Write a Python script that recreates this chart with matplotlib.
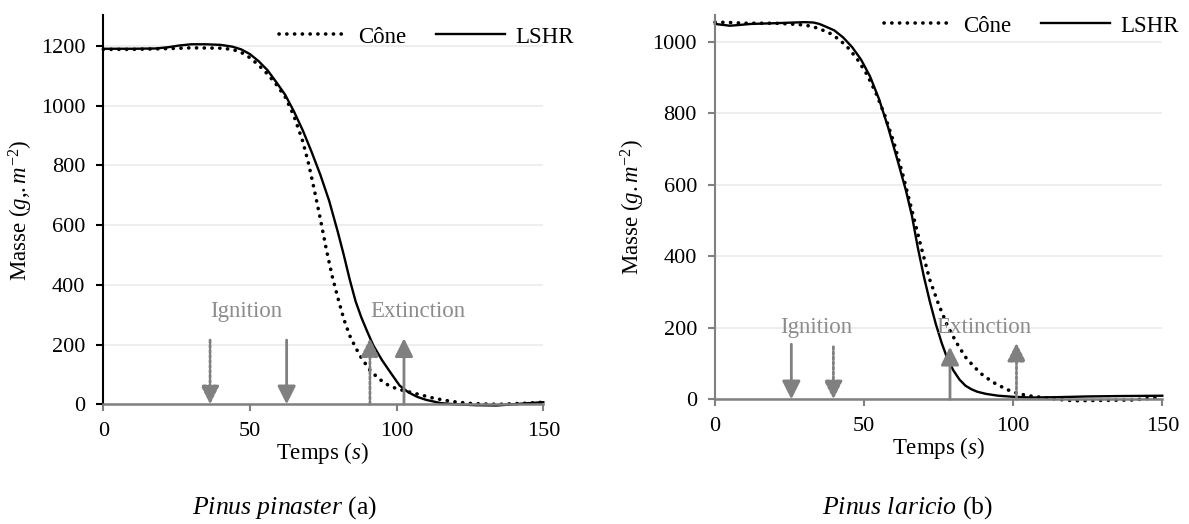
import matplotlib
matplotlib.use("Agg")
import matplotlib.pyplot as plt

plt.rcParams["font.family"] = ["Liberation Serif", "DejaVu Serif"]
plt.rcParams["mathtext.fontset"] = "custom"
plt.rcParams["mathtext.rm"] = "Liberation Serif"
plt.rcParams["mathtext.it"] = "Liberation Serif:italic"

# --- data ---
cone_a_t = [0, 10, 20, 30, 40, 44, 47, 50, 53, 56, 59, 62, 65, 68, 70, 72, 74, 76, 78, 80, 82, 84,
            86, 88, 91, 94, 97, 100, 104, 108, 112, 116, 120, 125, 130, 135, 140, 145, 150]
cone_a_m = [1188, 1188, 1190, 1193, 1192, 1188, 1178, 1160, 1135, 1105, 1070, 1029, 965, 880, 805,
            715, 620, 520, 430, 355, 285, 230, 190, 155, 113, 85, 65, 52, 42, 32, 22, 14, 8, 3, 1,
            0, 2, 4, 7]
lshr_a_t = [0, 10, 18, 22, 26, 30, 35, 40, 44, 47, 50, 53, 56, 59, 62, 65, 68, 71, 74, 77, 80, 82,
            84, 86, 88, 90, 92, 95, 98, 101, 104, 107, 110, 115, 120, 127, 134, 140, 145, 150]
lshr_a_m = [1190, 1190, 1191, 1195, 1201, 1205, 1205, 1203, 1197, 1188, 1172, 1148, 1118, 1078,
            1036, 980, 917, 845, 768, 681, 575, 499, 418, 345, 290, 243, 198, 148, 105, 63, 40,
            25, 15, 4, 0, -3, -4, 0, 4, 7]

cone_b_t = [0, 5, 10, 20, 25, 30, 33, 36, 39, 42, 45, 48, 51, 54, 57, 60, 63, 66, 69, 72, 75, 78,
            81, 84, 87, 90, 94, 98, 102, 106, 110, 115, 120, 130, 140, 145, 150]
cone_b_m = [1055, 1054, 1052, 1052, 1050, 1047, 1042, 1033, 1022, 1004, 980, 948, 908, 856, 793,
            718, 628, 530, 430, 335, 265, 205, 158, 118, 90, 66, 44, 27, 15, 9, 5, 0, -4, -3, -2,
            2, 5]
lshr_b_t = [0, 3, 5, 8, 12, 20, 30, 33, 35, 37, 40, 43, 46, 49, 52, 55, 58, 61, 64, 66, 68, 70, 72,
            74, 76, 78, 80, 82, 84, 86, 88, 91, 95, 100, 106, 115, 125, 135, 150]
lshr_b_m = [1050, 1047, 1045, 1047, 1050, 1052, 1055, 1054, 1050, 1043, 1032, 1012, 985, 950, 903,
            840, 762, 675, 585, 515, 425, 345, 275, 212, 158, 112, 80, 55, 38, 28, 21, 15, 10, 7,
            5, 6, 8, 9, 10]

# arrows: (time, top value, style)
ign_a = [(36.4, 215, ":"), (62.5, 215, "-")]
ext_a = [(90.9, 221, ":"), (102.5, 221, "-")]
ign_b = [(25.6, 154, "-"), (39.7, 147, ":")]
ext_b = [(78.8, 147, "-"), (101.1, 158, ":")]

W, H = 1189, 524
fig = plt.figure(figsize=(W / 100, H / 100), dpi=100)

def px(x, y):
    return x / W, 1 - y / H

GRAY = "#808080"
TXT_GRAY = "#8c8c8c"
FS = 16.5


def panel(rect, ylim, yticks, ct, cm, lt, lm, ign, ext, ign_pos, ext_pos, yspine):
    ax = fig.add_axes(rect)
    ax.set_xlim(0, 150)
    ax.set_ylim(0, ylim)
    ax.set_xticks([0, 50, 100, 150])
    ax.set_yticks(yticks)
    ax.grid(axis="y", color="#ebebeb", lw=1.2)
    ax.set_axisbelow(True)
    for s in ["top", "right"]:
        ax.spines[s].set_visible(False)
    ax.spines["bottom"].set_color(GRAY)
    ax.spines["bottom"].set_linewidth(1.8)
    ax.spines["left"].set_color(yspine)
    ax.spines["left"].set_linewidth(1.5)
    ax.tick_params(axis="x", colors=GRAY, labelcolor="black", length=5, width=1.5,
                   labelsize=16, pad=8)
    ax.tick_params(axis="y", colors=yspine, labelcolor="black", length=5, width=1.5,
                   labelsize=16, pad=8)
    ax.plot(ct, cm, color="black", lw=2.6, linestyle=(0, (0.05, 2.1)),
            dash_capstyle="round", label="Cône", clip_on=False)
    ax.plot(lt, lm, color="black", lw=1.7, label="LSHR", clip_on=False)
    dotted = (0, (1, 0.8))
    for t, top, ls in ign:
        ax.annotate("", xy=(t, 0), xytext=(t, top),
                    arrowprops=dict(arrowstyle="-|>,head_length=1.1,head_width=0.55",
                                    color=GRAY, lw=2, linestyle="-" if ls == "-" else dotted,
                                    shrinkA=0, shrinkB=0))
    for t, top, ls in ext:
        ax.annotate("", xy=(t, top), xytext=(t, 0),
                    arrowprops=dict(arrowstyle="-|>,head_length=1.1,head_width=0.55",
                                    color=GRAY, lw=2, linestyle="-" if ls == "-" else dotted,
                                    shrinkA=0, shrinkB=0))
    ax.text(ign_pos[0], ign_pos[1], "Ignition", color=TXT_GRAY, fontsize=FS,
            ha="center", va="center")
    ax.text(ext_pos[0], ext_pos[1], "Extinction", color=TXT_GRAY, fontsize=FS,
            ha="center", va="center")
    return ax


l0, b0 = px(103.3, 404.3)
l1, b1 = px(543.3, 15)
ax1 = panel([l0, b0, l1 - l0, b1 - b0], 1303, [0, 200, 400, 600, 800, 1000, 1200],
            cone_a_t, cone_a_m, lshr_a_t, lshr_a_m, ign_a, ext_a, (48.6, 309), (107.1, 309), "black")

r0, c0 = px(715, 399.3)
r1, c1 = px(1162.3, 15)
ax2 = panel([r0, c0, r1 - r0, c1 - c0], 1075, [0, 200, 400, 600, 800, 1000],
            cone_b_t, cone_b_m, lshr_b_t, lshr_b_m, ign_b, ext_b, (34.1, 202), (90, 202), GRAY)

for ax, (x, y) in [(ax1, (574, 37)), (ax2, (1179, 26))]:
    ax.legend(loc="center right", bbox_to_anchor=px(x, y), bbox_transform=fig.transFigure,
              ncol=2, frameon=False, fontsize=FS, handlelength=3.0, handletextpad=0.45,
              columnspacing=1.3, borderpad=0, borderaxespad=0)

fig.text(*px(21, 210), "Masse $\\mathit{(g{,}{.}m^{-2})}$", rotation=90, fontsize=FS,
         ha="center", va="center")
fig.text(*px(633, 207), "Masse $\\mathit{(g{.}m^{-2})}$", rotation=90, fontsize=FS,
         ha="center", va="center")
fig.text(*px(323, 453), "Temps $\\mathit{(s)}$", fontsize=FS, ha="center", va="center")
fig.text(*px(938.5, 448), "Temps $\\mathit{(s)}$", fontsize=FS, ha="center", va="center")
fig.text(*px(285, 508), "$\\mathit{Pinus\\ pinaster}$ (a)", fontsize=18.5, ha="center", va="center")
fig.text(*px(907, 508), "$\\mathit{Pinus\\ laricio}$ (b)", fontsize=18.5, ha="center", va="center")

fig.savefig("out.png", dpi=100)
